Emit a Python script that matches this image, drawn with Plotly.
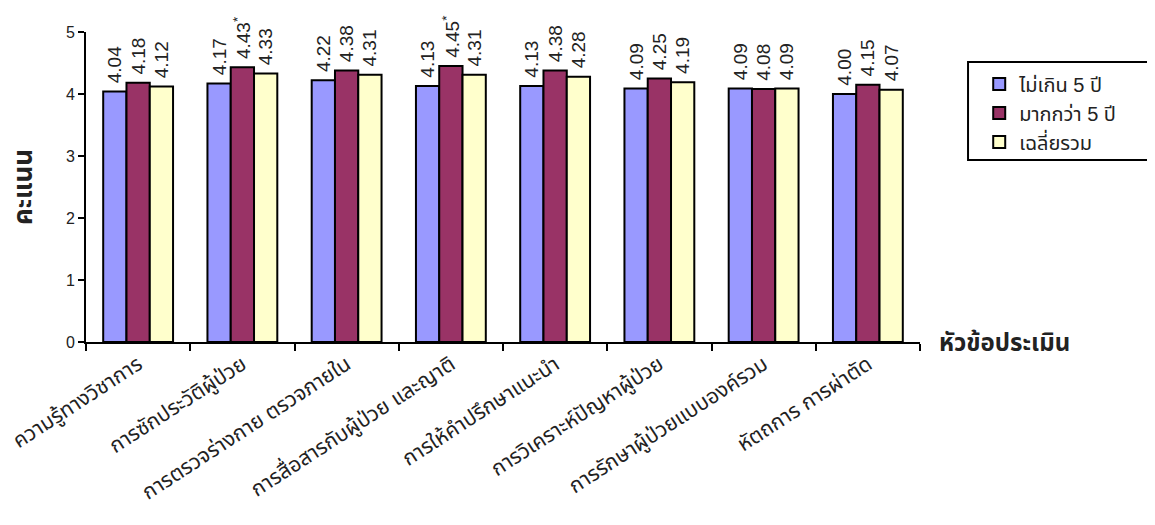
import plotly.graph_objects as go

categories = [
    "ความรู้ทางวิชาการ",
    "การซักประวัติผู้ป่วย",
    "การตรวจร่างกาย ตรวจภายใน",
    "การสื่อสารกับผู้ป่วย และญาติ",
    "การให้คำปรึกษาแนะนำ",
    "การวิเคราะห์ปัญหาผู้ป่วย",
    "การรักษาผู้ป่วยแบบองค์รวม",
    "หัตถการ การผ่าตัด",
]
series_names = ["ไม่เกิน 5 ปี", "มากกว่า 5 ปี", "เฉลี่ยรวม"]
le5 = [4.04, 4.17, 4.22, 4.13, 4.13, 4.09, 4.09, 4.00]
gt5 = [4.18, 4.43, 4.38, 4.45, 4.38, 4.25, 4.08, 4.15]
avg = [4.12, 4.33, 4.31, 4.31, 4.28, 4.19, 4.09, 4.07]
gt5_marks = ["", "*", "", "*", "", "", "", ""]
colors = ["#9999FF", "#993366", "#FFFFCC"]

FONT = "Liberation Sans, Noto Sans Thai, Noto Sans, sans-serif"

fig = go.Figure()
all_series = [le5, gt5, avg]
for i, (name, vals) in enumerate(zip(series_names, all_series)):
    if i == 1:
        texts = ["\u00a0" + f"{v:.2f}" + (f"<sup>{m}</sup>" if m else "") for v, m in zip(vals, gt5_marks)]
    else:
        texts = ["\u00a0" + f"{v:.2f}" for v in vals]
    fig.add_trace(go.Bar(
        x=categories, y=vals, name=name,
        marker=dict(color=colors[i], line=dict(color="black", width=2)),
        text=texts, textposition="outside", textangle=-90,
        constraintext="none",
        textfont=dict(family=FONT, size=19, color="#222"),
        cliponaxis=False,
    ))

fig.update_layout(
    width=1147, height=517,
    margin=dict(l=78, r=235, t=24, b=183),
    paper_bgcolor="white", plot_bgcolor="white",
    barmode="group", bargap=0.33, bargroupgap=0,
    font=dict(family=FONT, size=15, color="black"),
    showlegend=True,
    legend=dict(
        x=1.071, y=0.895, xanchor="left", yanchor="top",
        borderwidth=0, bgcolor="rgba(0,0,0,0)",
        font=dict(family=FONT, size=20, color="#222"),
        tracegroupgap=2,
    ),
    shapes=[dict(
        type="rect", xref="paper", yref="paper",
        x0=1.0576, x1=1.2734, y0=0.587, y1=0.903,
        line=dict(color="black", width=2), fillcolor="rgba(0,0,0,0)",
    )],
)
fig.update_xaxes(
    automargin=False,
    showline=True, linecolor="black", linewidth=2,
    ticks="outside", tickson="boundaries", ticklen=7, tickwidth=2, tickcolor="black",
    tickangle=-33, tickfont=dict(family=FONT, size=21, color="#222"),
    showgrid=False,
)
fig.update_yaxes(
    automargin=False,
    range=[0, 5], dtick=1, showline=True, linecolor="black", linewidth=2,
    ticks="outside", ticklen=6, tickwidth=1.5, tickcolor="black",
    tickfont=dict(family=FONT, size=16, color="#222"),
    showgrid=False, zeroline=False,
    title=dict(text="<b>คะแนน</b>", font=dict(family=FONT, size=26, color="#222"), standoff=30),
)
fig.add_annotation(
    text="<b>หัวข้อประเมิน</b>", xref="paper", yref="paper",
    x=1.02, y=0, xanchor="left", yanchor="middle", showarrow=False,
    font=dict(family=FONT, size=24, color="#222"),
)

fig.write_html("out.html")
